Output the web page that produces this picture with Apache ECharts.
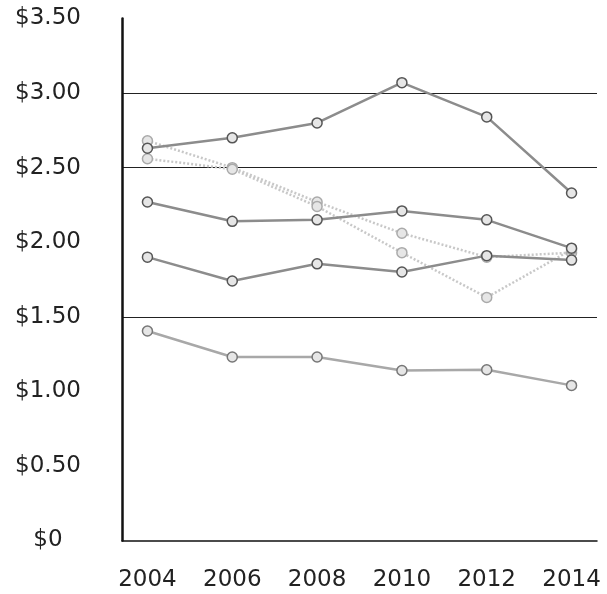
<!DOCTYPE html>
<html>
<head>
<meta charset="utf-8">
<script src="https://cdn.jsdelivr.net/npm/echarts@6/dist/echarts.min.js"></script>
<style>html,body{margin:0;padding:0;background:#fff}#c{width:607px;height:594px}</style>
</head>
<body>
<div id="c"></div>
<script>
const years = [2004, 2006, 2008, 2010, 2012, 2014];
const yTickLabels = ['$0', '$0.50', '$1.00', '$1.50', '$2.00', '$2.50', '$3.00', '$3.50'];
const seriesLightA = [2.68, 2.50, 2.27, 2.06, 1.90, 1.93];
const seriesLightB = [2.56, 2.49, 2.24, 1.93, 1.63, 1.95];
const seriesTop = [2.63, 2.70, 2.80, 3.07, 2.84, 2.33];
const seriesMid = [2.27, 2.14, 2.15, 2.21, 2.15, 1.96];
const seriesLow = [1.90, 1.74, 1.855, 1.80, 1.91, 1.88];
const seriesBottom = [1.405, 1.23, 1.23, 1.14, 1.145, 1.04];

function pairs(vals) { return years.map((y, i) => [y, vals[i]]); }

function mk(name, vals, color, border, z, dotted) {
  return {
    name: name, type: 'line', data: pairs(vals), z: z,
    symbol: 'circle', symbolSize: 10,
    lineStyle: { color: color, width: 2.5, type: dotted ? [2, 2] : 'solid' },
    itemStyle: { color: '#e6e6e6', borderColor: border, borderWidth: 1.5 },
    emphasis: { disabled: true }, animation: false
  };
}

const chart = echarts.init(document.getElementById('c'), null, { renderer: 'canvas' });
chart.setOption({
  animation: false,
  backgroundColor: '#fff',
  grid: { left: 122, right: 10, top: 18.5, bottom: 53.5, containLabel: false },
  xAxis: {
    type: 'value', min: 2003.4, max: 2014.6,
    axisLine: { show: true, lineStyle: { color: '#111', width: 1.5 } },
    axisTick: { show: false },
    splitLine: { show: false },
    axisLabel: {
      customValues: years, margin: 28,
      fontFamily: 'DejaVu Sans', fontSize: 23, color: '#222',
      formatter: v => String(v)
    }
  },
  yAxis: {
    type: 'value', min: 0, max: 3.5, interval: 0.5,
    axisLine: { show: true, lineStyle: { color: '#111', width: 2.5 } },
    axisTick: { show: false },
    splitLine: {
      show: true, showMinLine: true, showMaxLine: true,
      lineStyle: { width: 1, color: ['transparent', 'transparent', 'transparent', '#222', 'transparent', '#222', '#222', 'transparent'] }
    },
    axisLabel: {
      margin: 74, align: 'center',
      fontFamily: 'DejaVu Sans', fontSize: 23, color: '#222',
      formatter: v => yTickLabels[Math.round(v / 0.5)]
    }
  },
  series: [
    mk('Light A', seriesLightA, '#c8c8c8', '#aaa', 2, true),
    mk('Light B', seriesLightB, '#c8c8c8', '#aaa', 2, true),
    mk('Bottom', seriesBottom, '#a8a8a8', '#777', 3, false),
    mk('Low', seriesLow, '#8c8c8c', '#555', 4, false),
    mk('Mid', seriesMid, '#8c8c8c', '#555', 4, false),
    mk('Top', seriesTop, '#8c8c8c', '#555', 5, false)
  ]
});
</script>
</body>
</html>
